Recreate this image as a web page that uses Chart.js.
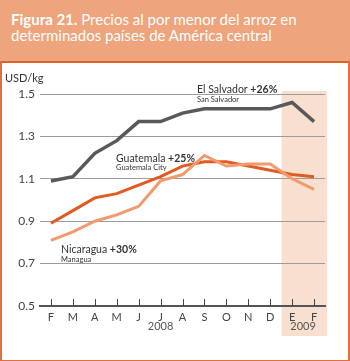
<!DOCTYPE html>
<html>
<head>
<meta charset="utf-8">
<script src="https://cdn.jsdelivr.net/npm/chart.js@4/dist/chart.umd.min.js"></script>
<style>
  html,body{margin:0;padding:0;background:#fff;}
  body{width:350px;height:361px;position:relative;overflow:hidden;font-family:Lato,sans-serif;}
  #head{position:absolute;left:0;top:0;width:350px;height:61px;background:#eea47c;}
  #title{position:absolute;left:11px;top:11px;color:#fff;font-size:15px;line-height:16px;}
  #title b{font-weight:bold;}
  #box{position:absolute;left:0;top:61px;width:346px;height:297px;border:2px solid #e2703e;border-top:2px solid #e0622a;background:#fff;}
  #wrap{position:absolute;left:2px;top:62px;width:345px;height:297px;}
</style>
</head>
<body>
<div id="head"><div id="title"><b>Figura 21.</b> Precios al por menor del arroz en<br>determinados países de América central</div></div>
<div id="box"></div>
<div id="wrap"><canvas id="c"></canvas></div>
<script>
// months Feb 2008 -> Feb 2009
const months = ['F','M','A','M','J','J','A','S','O','N','D','E','F'];
const yTicks = [0.5,0.7,0.9,1.1,1.3,1.5];
const elSalvador = [1.09,1.11,1.22,1.28,1.37,1.37,1.41,1.43,1.43,1.43,1.43,1.46,1.37];
const guatemala  = [0.89,0.95,1.01,1.03,1.07,1.11,1.16,1.18,1.18,1.16,1.14,1.12,1.11];
const nicaragua  = [0.81,0.85,0.90,0.93,0.97,1.09,1.12,1.21,1.16,1.17,1.17,1.10,1.05];

// extra painting: shaded 2009 band, inner ticks, year and series labels
const decor = {
  id:'decor',
  beforeDraw(ch){
    const ctx = ch.ctx, x = ch.scales.x, a = ch.chartArea;
    const l = x.getPixelForValue(11) - 10.5, r = x.getPixelForValue(12) + 13;
    ctx.save();
    ctx.fillStyle = '#f9dfcf';
    ctx.fillRect(l, a.top - 3, r - l, a.bottom - a.top + 33);
    ctx.restore();
  },
  afterDraw(ch){
    const ctx = ch.ctx, x = ch.scales.x, a = ch.chartArea;
    ctx.save();
    ctx.strokeStyle = '#444'; ctx.lineWidth = 1;
    months.forEach((m,i)=>{
      const px = Math.round(x.getPixelForValue(i)) + 0.5;
      ctx.beginPath(); ctx.moveTo(px, a.bottom - 7); ctx.lineTo(px, a.bottom); ctx.stroke();
    });
    ctx.fillStyle = '#555';
    ctx.font = '11px Lato';
    ctx.textAlign = 'center'; ctx.textBaseline = 'alphabetic';
    ctx.fillText('2008', x.getPixelForValue(5), a.bottom + 24);
    ctx.fillText('2009', (x.getPixelForValue(11) + x.getPixelForValue(12)) / 2, a.bottom + 24);
    ctx.textAlign = 'left';
    ctx.fillStyle = '#333';
    ctx.fillText('USD/kg', 3, 20);

    function lab(name, pct, sub, px, py){
      ctx.font = '10.5px Lato'; ctx.fillStyle = '#333';
      ctx.fillText(name + ' ', px, py);
      const w = ctx.measureText(name + ' ').width;
      ctx.font = 'bold 10.5px Lato';
      ctx.fillText(pct, px + w, py);
      ctx.font = '7.5px Lato';
      ctx.fillText(sub, px, py + 8.5);
    }
    lab('El Salvador', '+26%', 'San Salvador', 195, 31);
    lab('Guatemala', '+25%', 'Guatemala City', 114, 99.5);
    lab('Nicaragua', '+30%', 'Managua', 59, 191);
    ctx.restore();
  }
};

new Chart(document.getElementById('c'), {
  type:'line',
  data:{
    labels: months,
    datasets:[
      {data:nicaragua, borderColor:'#f2996e', borderWidth:3},
      {data:guatemala, borderColor:'#e15a22', borderWidth:3},
      {data:elSalvador, borderColor:'#58595b', borderWidth:3.5}
    ]
  },
  options:{
    responsive:true, maintainAspectRatio:false, animation:false,
    layout:{padding:{left:0,right:22,top:32,bottom:0}},
    elements:{point:{radius:0}, line:{tension:0, borderCapStyle:'butt', borderJoinStyle:'miter'}},
    plugins:{legend:{display:false}, tooltip:{enabled:false}},
    scales:{
      x:{
        offset:true,
        grid:{display:false, drawTicks:false},
        border:{display:true, color:'#555', width:2},
        ticks:{color:'#444', font:{family:'Lato', size:11}, padding:5, maxRotation:0, autoSkip:false},
        afterFit(s){ s.height = 53; }
      },
      y:{
        min:0.5, max:1.5,
        afterBuildTicks(s){ s.ticks = yTicks.map(v=>({value:v})); },
        grid:{color:'#9c9c9c', drawTicks:false, lineWidth:1},
        border:{display:false},
        ticks:{color:'#444', padding:5, font:{family:'Lato', size:12}, callback:v=>v.toFixed(1)},
        afterFit(s){ s.width = 38; }
      }
    }
  },
  plugins:[decor]
});
</script>
</body>
</html>
